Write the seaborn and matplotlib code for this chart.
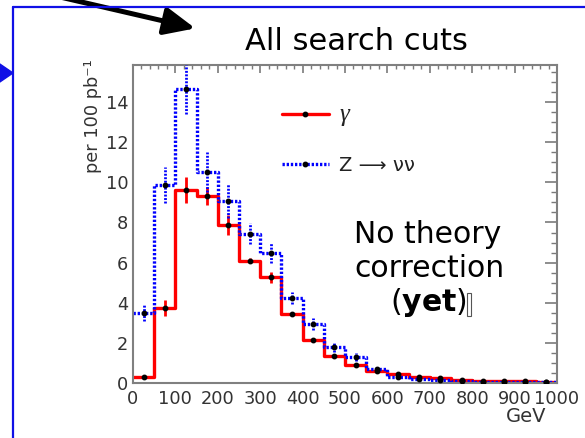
import matplotlib
matplotlib.use("Agg")
import matplotlib.pyplot as plt
import seaborn as sns
from matplotlib.lines import Line2D
from matplotlib.patches import Polygon, FancyArrowPatch, Rectangle
from matplotlib.ticker import MultipleLocator

# 50 GeV bins from 0 to 1000 GeV
bin_edges = [0, 50, 100, 150, 200, 250, 300, 350, 400, 450, 500,
             550, 600, 650, 700, 750, 800, 850, 900, 950, 1000]

# photon sample, events per 100 pb^-1
gamma_counts = [0.32, 3.75, 9.62, 9.32, 7.87, 6.10, 5.27, 3.45, 2.12, 1.36,
                0.92, 0.60, 0.47, 0.32, 0.24, 0.15, 0.11, 0.09, 0.08, 0.07]
gamma_err = [0.10, 0.40, 0.65, 0.45, 0.50, 0.12, 0.28, 0.10, 0.10, 0.08,
             0.07, 0.06, 0.05, 0.05, 0.04, 0.03, 0.03, 0.03, 0.02, 0.02]

# Z -> nu nu sample, events per 100 pb^-1
znn_counts = [3.50, 9.85, 14.63, 10.52, 9.07, 7.45, 6.46, 4.22, 2.92, 1.81,
              1.30, 0.68, 0.28, 0.18, 0.15, 0.08, 0.06, 0.05, 0.04, 0.04]
znn_err = [0.40, 0.90, 1.20, 0.98, 0.85, 0.50, 0.50, 0.30, 0.30, 0.25,
           0.20, 0.15, 0.10, 0.08, 0.07, 0.05, 0.04, 0.04, 0.03, 0.03]

legend_labels = ["\u03b3", "Z \u27f6 \u03bd\u03bd"]

sns.set_theme(style="white")
plt.rcParams["font.family"] = ["DejaVu Sans"]

W, H = 585, 438
fig = plt.figure(figsize=(W / 100, H / 100), dpi=100)
fig.patch.set_facecolor("white")


def fx(px):
    return px / W


def fy(py):
    return 1 - py / H


ax = fig.add_axes([fx(133), fy(383), fx(557) - fx(133), fy(65) - fy(383)])

centers = [(a + b) / 2 for a, b in zip(bin_edges[:-1], bin_edges[1:])]
fine_dots = (0, (0.7, 0.55))

sns.histplot(x=centers, weights=gamma_counts, bins=bin_edges, element="step",
             fill=False, color="#ff0000", linewidth=2.4, ax=ax)
sns.histplot(x=centers, weights=znn_counts, bins=bin_edges, element="step",
             fill=False, color="#0000ff", linewidth=2.4, linestyle=fine_dots,
             ax=ax)

ax.errorbar(centers, gamma_counts, yerr=gamma_err, fmt="o", ms=3.2,
            mfc="black", mec="black", ecolor="#ff0000", elinewidth=2.0,
            capsize=0, zorder=3)
eb = ax.errorbar(centers, znn_counts, yerr=znn_err, fmt="o", ms=3.2,
                 mfc="black", mec="black", ecolor="#0000ff", elinewidth=2.0,
                 capsize=0, zorder=3)
eb[2][0].set_linestyle(fine_dots)

ax.set_xlim(0, 1000)
ax.set_ylim(0, 15.85)
ax.set_xlabel("")
ax.set_ylabel("")
ax.xaxis.set_major_locator(MultipleLocator(100))
ax.xaxis.set_minor_locator(MultipleLocator(20))
ax.yaxis.set_major_locator(MultipleLocator(2))
ax.yaxis.set_minor_locator(MultipleLocator(0.5))
ax.tick_params(which="both", direction="in", top=True, right=True,
               colors="#7a7a7a", labelcolor="#333333", labelsize=12.8)
ax.tick_params(axis="x", which="major", length=6, width=1.2, pad=5)
ax.tick_params(axis="x", which="minor", length=3, width=1.0)
ax.tick_params(axis="y", which="major", length=8.5, width=1.2, pad=3.5)
ax.tick_params(axis="y", which="minor", length=4, width=1.0)
for s in ax.spines.values():
    s.set_color("#808080")
    s.set_linewidth(1.5)

handles = [
    Line2D([], [], color="#ff0000", lw=2.4, marker="o", ms=3.2,
           mfc="black", mec="black"),
    Line2D([], [], color="#0000ff", lw=2.4, ls=fine_dots, marker="o", ms=3.2,
           mfc="black", mec="black"),
]
leg = ax.legend(handles, legend_labels, loc="upper left",
                bbox_to_anchor=(fx(282), fy(104)), bbox_transform=fig.transFigure,
                frameon=False, fontsize=14, handlelength=2.4,
                handletextpad=0.55, labelspacing=1.55, borderaxespad=0,
                borderpad=0, numpoints=1)
leg.get_texts()[0].set_family(["Liberation Serif"])
leg.get_texts()[0].set_style("italic")
leg.get_texts()[0].set_fontsize(18)
for t in leg.get_texts():
    t.set_color("#222222")

# axis captions
fig.text(fx(93), fy(59), "per 100 pb\u207b\u00b9", rotation=90, ha="center",
         va="top", fontsize=12.8, color="#333333")
fig.text(fx(546), fy(422), "GeV", ha="right", va="baseline", fontsize=14,
         color="#333333")

# slide annotations
fig.text(fx(356), fy(50), "All search cuts", ha="center", va="baseline",
         fontsize=22, color="black")
fig.text(fx(428), fy(243), "No theory", ha="center", va="baseline",
         fontsize=21.5, color="black")
fig.text(fx(429), fy(277), "correction", ha="center", va="baseline",
         fontsize=21.5, color="black")
fig.text(fx(428), fy(311), r"($\mathbf{yet}$)", ha="center", va="baseline",
         fontsize=21.5, color="black")
fig.add_artist(Rectangle((fx(467), fy(316)), fx(4), 23 / H, fill=False,
                         ec="#555555", lw=0.8, transform=fig.transFigure))

# slide frame, pointer triangle and arrow
blue = "#1010e6"
fig.add_artist(Line2D([fx(13), fx(590)], [fy(7), fy(7)], color=blue, lw=1.6,
                      transform=fig.transFigure))
fig.add_artist(Line2D([fx(13), fx(13)], [fy(7), fy(445)], color=blue, lw=1.6,
                      transform=fig.transFigure))
fig.add_artist(Polygon([(fx(-6), fy(60)), (fx(13), fy(73)), (fx(-6), fy(86))],
                       closed=True, color=blue, transform=fig.transFigure))
fig.add_artist(FancyArrowPatch((fx(60), fy(-3)), (fx(198), fy(29)),
                               arrowstyle="-|>,head_length=0.85,head_width=0.38",
                               mutation_scale=22, lw=3.6, color="black",
                               transform=fig.transFigure))

fig.savefig("out.png", dpi=100)
